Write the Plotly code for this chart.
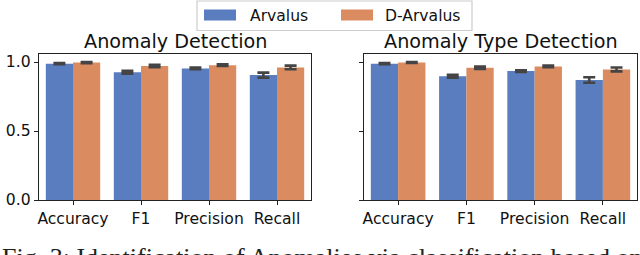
import plotly.graph_objects as go
from plotly.subplots import make_subplots

metrics = ["Accuracy", "F1", "Precision", "Recall"]
series_names = ["Arvalus", "D-Arvalus"]
colors = ["#597DBF", "#DA8B5F"]

# Anomaly Detection
ad_arvalus = [0.988, 0.926, 0.953, 0.905]
ad_arvalus_err = [0.004, 0.010, 0.006, 0.018]
ad_darvalus = [0.996, 0.971, 0.977, 0.961]
ad_darvalus_err = [0.004, 0.008, 0.006, 0.013]

# Anomaly Type Detection
atd_arvalus = [0.988, 0.897, 0.934, 0.870]
atd_arvalus_err = [0.004, 0.010, 0.006, 0.020]
atd_darvalus = [0.997, 0.958, 0.968, 0.946]
atd_darvalus_err = [0.003, 0.009, 0.006, 0.014]

titles = ["Anomaly Detection", "Anomaly Type Detection"]
yticks = [0.0, 0.5, 1.0]
ytick_text = ["0.0", "0.5", "1.0"]
caption = "Fig. 3: Identification of Anomalies via classification based on"

W, H = 640, 255
def px(x): return x / W
def py(y): return 1 - y / H

fig = make_subplots(rows=1, cols=2, horizontal_spacing=0.05)

data = [
    [(ad_arvalus, ad_arvalus_err), (ad_darvalus, ad_darvalus_err)],
    [(atd_arvalus, atd_arvalus_err), (atd_darvalus, atd_darvalus_err)],
]
for c, panel in enumerate(data, start=1):
    for i, (vals, errs) in enumerate(panel):
        fig.add_trace(go.Bar(
            x=metrics, y=vals, name=series_names[i], marker_color=colors[i],
            marker_line_width=0, offsetgroup=str(i), showlegend=False,
            error_y=dict(type="data", array=errs, visible=True, color="#444444",
                         thickness=2.6, width=6),
        ), row=1, col=c)

fig.update_layout(
    width=W, height=H, margin=dict(l=0, r=0, t=0, b=0, autoexpand=False),
    paper_bgcolor="white", plot_bgcolor="white",
    barmode="group", bargap=0.2, bargroupgap=0,
    font=dict(family="DejaVu Sans", color="#111111"),
)

domains = [(px(39), px(311)), (px(364), px(637))]
ydom = (py(200), py(54))
for c in (1, 2):
    fig.update_xaxes(row=1, col=c, domain=list(domains[c - 1]), range=[-0.5, 3.5],
                     automargin=False,
                     showline=True, linecolor="#222222", linewidth=1.2, mirror=True,
                     ticks="outside", ticklen=4, tickcolor="#222222", tickwidth=1,
                     tickfont=dict(size=15.6, color="#111111"), showgrid=False)
    fig.update_yaxes(row=1, col=c, domain=list(ydom), range=[0, 1.058],
                     automargin=False,
                     showline=True, linecolor="#222222", linewidth=1.2, mirror=True,
                     ticks="outside", ticklen=4, tickcolor="#222222", tickwidth=1,
                     tickvals=yticks, ticktext=ytick_text if c == 1 else ["", "", ""],
                     tickfont=dict(size=15.6, color="#111111"), showgrid=False, zeroline=False)

# subplot titles
for c in (1, 2):
    d = domains[c - 1]
    fig.add_annotation(text=titles[c - 1], xref="paper", yref="paper",
                       x=(d[0] + d[1]) / 2, y=py(42), xanchor="center", yanchor="middle",
                       showarrow=False, font=dict(size=19.2, color="#111111"))

# legend (manual)
fig.add_shape(type="rect", xref="paper", yref="paper", x0=px(197), x1=px(472),
              y0=py(30.5), y1=py(1), line=dict(color="#cccccc", width=1.2),
              fillcolor="white", layer="above")
legend_items = [(204, 236, 248), (341, 373, 383)]
for i, (a, b, t) in enumerate(legend_items):
    fig.add_shape(type="rect", xref="paper", yref="paper", x0=px(a), x1=px(b),
                  y0=py(20.5), y1=py(9.5), line=dict(width=0), fillcolor=colors[i],
                  layer="above")
    fig.add_annotation(text=series_names[i], xref="paper", yref="paper",
                       x=px(t), y=py(15.5), xanchor="left", yanchor="middle",
                       showarrow=False, font=dict(size=15.6, color="#111111"))

# caption (cut off at bottom, as in the reference)
fig.add_annotation(text=caption,
                   xref="paper", yref="paper", x=px(0), y=py(257), xanchor="left",
                   yanchor="middle", showarrow=False,
                   font=dict(family="Liberation Serif", size=26, color="#222222"))

fig.write_html("out.html",
               config={"displayModeBar": False, "staticPlot": True},
               post_script="document.body.style.margin='0';document.body.style.overflow='hidden';")
